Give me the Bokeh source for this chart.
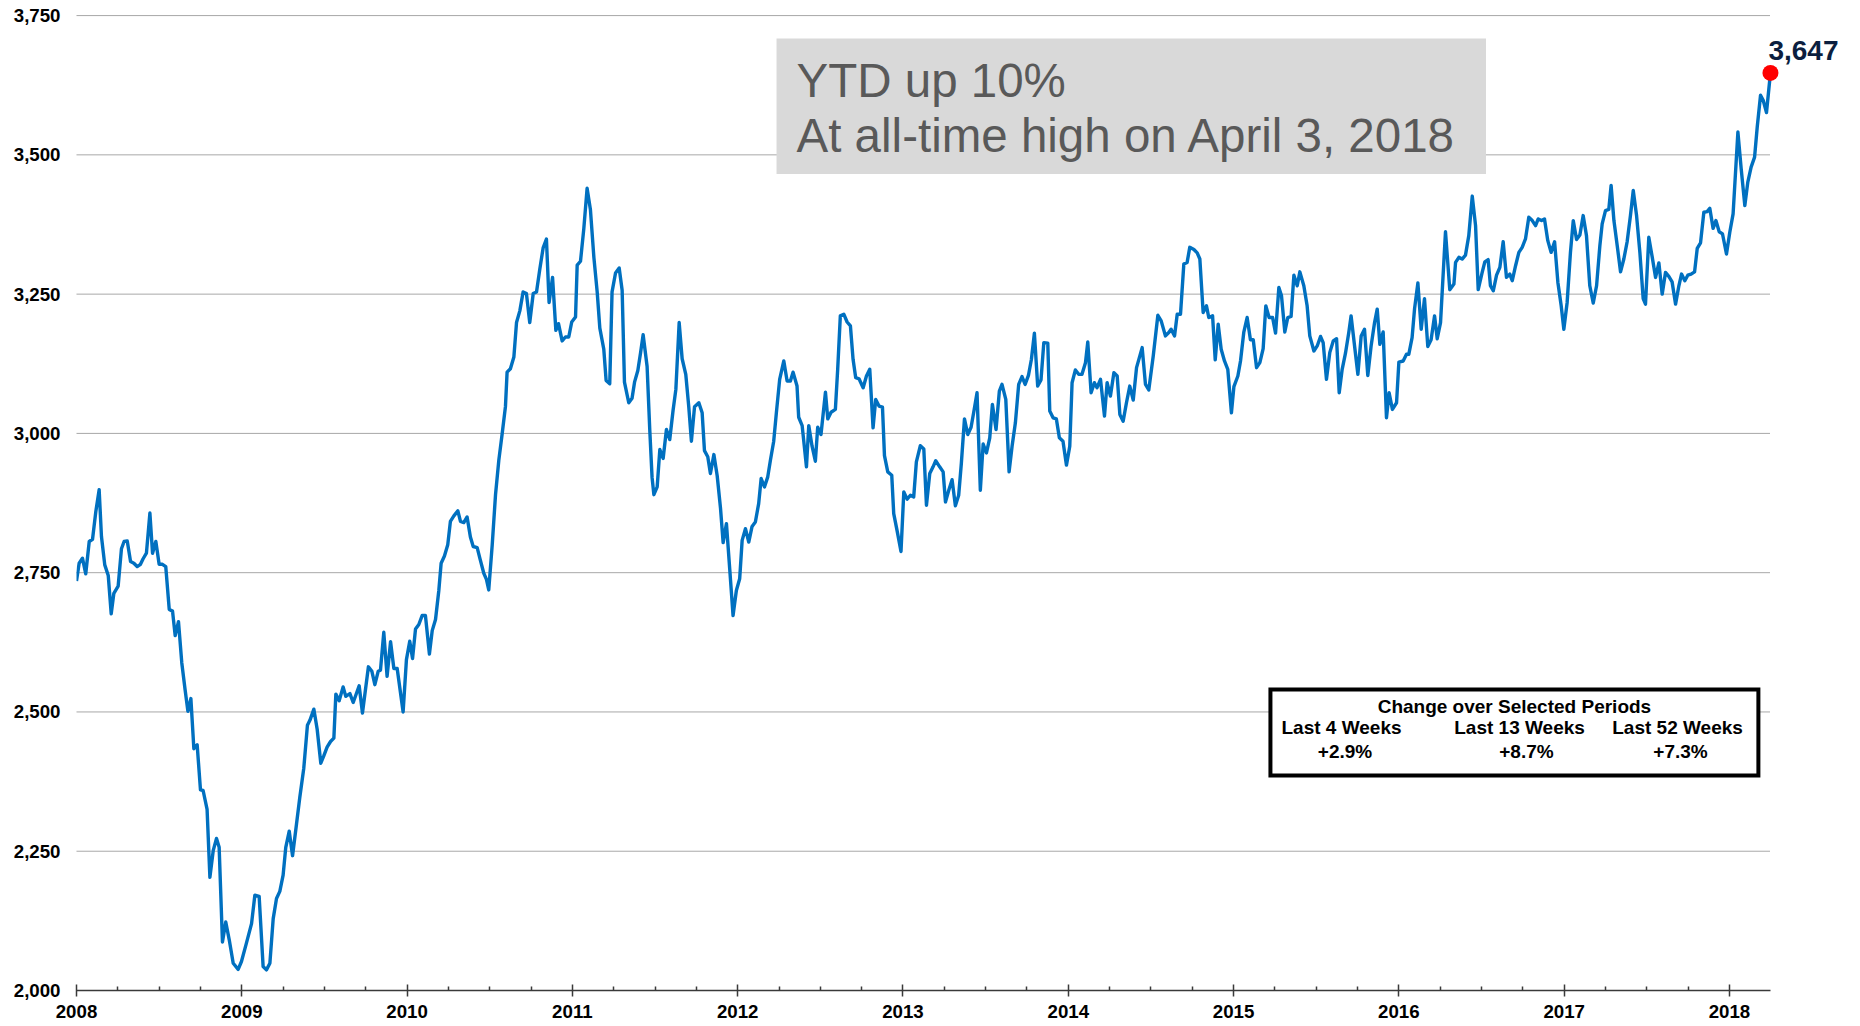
from bokeh.plotting import figure
from bokeh.models import (FixedTicker, NumeralTickFormatter, Label,
                          BoxAnnotation, Range1d)
from bokeh.embed import file_html
from bokeh.resources import INLINE

# ---------------- data (weekly index level) ----------------
years_2008_09 = [2008.000, 2008.016, 2008.036, 2008.056, 2008.077, 2008.097, 2008.117, 2008.137, 2008.151, 2008.171,
                 2008.192, 2008.210, 2008.226, 2008.252, 2008.272, 2008.288, 2008.307, 2008.327, 2008.347, 2008.367,
                 2008.387, 2008.403, 2008.423, 2008.444, 2008.460, 2008.480, 2008.500, 2008.520, 2008.540, 2008.561,
                 2008.581, 2008.597, 2008.617, 2008.637, 2008.657, 2008.674, 2008.692, 2008.710, 2008.730, 2008.750,
                 2008.766, 2008.790, 2008.807, 2008.827, 2008.847, 2008.863, 2008.883, 2008.903, 2008.924, 2008.948,
                 2008.978, 2008.998, 2009.028, 2009.059, 2009.079, 2009.105, 2009.129, 2009.149, 2009.170, 2009.190,
                 2009.210, 2009.230, 2009.250, 2009.266, 2009.287, 2009.307, 2009.331, 2009.351, 2009.375, 2009.397,
                 2009.412, 2009.436, 2009.456, 2009.478, 2009.496, 2009.516, 2009.537, 2009.557, 2009.569, 2009.589,
                 2009.613, 2009.629, 2009.654, 2009.674, 2009.710, 2009.730, 2009.766, 2009.787, 2009.805, 2009.825,
                 2009.839, 2009.859, 2009.879, 2009.900, 2009.920, 2009.940]
values_2008_09 = [2735, 2767, 2776, 2748, 2806, 2810, 2860, 2899, 2815, 2764,
                  2745, 2676, 2713, 2726, 2793, 2806, 2807, 2770, 2767, 2761,
                  2765, 2775, 2785, 2857, 2785, 2806, 2765, 2765, 2761, 2684,
                  2681, 2637, 2662, 2588, 2540, 2501, 2524, 2434, 2441, 2360,
                  2359, 2325, 2203, 2251, 2273, 2257, 2087, 2123, 2091, 2049,
                  2038, 2052, 2085, 2120, 2171, 2169, 2043, 2037, 2049, 2129,
                  2165, 2178, 2207, 2257, 2286, 2242, 2299, 2347, 2399, 2476,
                  2485, 2505, 2469, 2408, 2421, 2437, 2447, 2453, 2532, 2520,
                  2545, 2528, 2533, 2517, 2547, 2498, 2581, 2573, 2549, 2573,
                  2575, 2643, 2564, 2626, 2578, 2578]

years_2010_11 = [2009.976, 2009.996, 2010.016, 2010.033, 2010.051, 2010.071, 2010.091, 2010.111, 2010.135, 2010.152,
                 2010.172, 2010.192, 2010.206, 2010.226, 2010.246, 2010.262, 2010.283, 2010.307, 2010.323, 2010.343,
                 2010.363, 2010.383, 2010.400, 2010.424, 2010.440, 2010.464, 2010.480, 2010.494, 2010.515, 2010.535,
                 2010.555, 2010.575, 2010.595, 2010.605, 2010.625, 2010.646, 2010.662, 2010.682, 2010.702, 2010.722,
                 2010.742, 2010.763, 2010.783, 2010.803, 2010.823, 2010.843, 2010.859, 2010.880, 2010.900, 2010.916,
                 2010.938, 2010.958, 2010.978, 2010.996, 2011.019, 2011.029, 2011.049, 2011.069, 2011.089, 2011.109,
                 2011.130, 2011.150, 2011.166, 2011.190, 2011.204, 2011.226, 2011.240, 2011.261, 2011.283, 2011.301,
                 2011.315, 2011.341, 2011.361, 2011.376, 2011.396, 2011.412, 2011.428, 2011.452, 2011.468, 2011.482,
                 2011.493, 2011.513, 2011.529, 2011.549, 2011.569, 2011.589, 2011.609, 2011.626, 2011.646, 2011.664,
                 2011.686, 2011.704, 2011.720, 2011.739, 2011.765, 2011.785, 2011.799, 2011.819, 2011.835, 2011.856,
                 2011.876, 2011.896, 2011.912, 2011.932, 2011.952, 2011.972]
values_2010_11 = [2500, 2594, 2627, 2596, 2649, 2657, 2673, 2673, 2604, 2646,
                  2666, 2718, 2767, 2780, 2800, 2842, 2852, 2861, 2842, 2840,
                  2850, 2814, 2797, 2795, 2776, 2749, 2738, 2719, 2800, 2890,
                  2952, 2999, 3048, 3110, 3116, 3137, 3199, 3220, 3254, 3251,
                  3199, 3251, 3254, 3295, 3333, 3349, 3235, 3280, 3185, 3197,
                  3166, 3173, 3173, 3200, 3209, 3302, 3309, 3367, 3440, 3402,
                  3316, 3254, 3189, 3151, 3095, 3089, 3254, 3288, 3297, 3257,
                  3092, 3055, 3063, 3092, 3113, 3144, 3177, 3120, 3007, 2921,
                  2890, 2904, 2971, 2955, 3007, 2989, 3041, 3079, 3199, 3134,
                  3106, 3048, 2986, 3048, 3055, 3037, 2969, 2958, 2928, 2962,
                  2924, 2866, 2804, 2838, 2756, 2673]

years_2012_13 = [2011.992, 2012.012, 2012.027, 2012.047, 2012.067, 2012.087, 2012.107, 2012.127, 2012.142, 2012.162,
                 2012.182, 2012.198, 2012.218, 2012.234, 2012.254, 2012.279, 2012.299, 2012.319, 2012.335, 2012.359,
                 2012.369, 2012.390, 2012.416, 2012.430, 2012.450, 2012.470, 2012.484, 2012.504, 2012.531, 2012.545,
                 2012.565, 2012.591, 2012.605, 2012.621, 2012.642, 2012.662, 2012.682, 2012.698, 2012.714, 2012.734,
                 2012.759, 2012.779, 2012.799, 2012.819, 2012.835, 2012.855, 2012.876, 2012.888, 2012.908, 2012.932,
                 2012.944, 2012.964, 2012.988, 2013.005, 2013.025, 2013.045, 2013.065, 2013.081, 2013.105, 2013.126,
                 2013.142, 2013.162, 2013.182, 2013.198, 2013.222, 2013.243, 2013.257, 2013.277, 2013.297, 2013.317,
                 2013.337, 2013.353, 2013.372, 2013.392, 2013.412, 2013.428, 2013.448, 2013.468, 2013.485, 2013.505,
                 2013.525, 2013.541, 2013.563, 2013.583, 2013.599, 2013.622, 2013.642, 2013.660, 2013.680, 2013.700,
                 2013.720, 2013.739, 2013.759, 2013.777, 2013.795, 2013.815, 2013.835, 2013.852, 2013.876, 2013.888,
                 2013.908, 2013.928, 2013.946, 2013.968, 2013.989, 2014.009, 2014.023, 2014.043, 2014.063, 2014.083,
                 2014.104, 2014.118, 2014.138, 2014.158, 2014.174]
values_2012_13 = [2718, 2739, 2808, 2829, 2805, 2833, 2841, 2874, 2919, 2904,
                  2922, 2952, 2986, 3037, 3097, 3130, 3094, 3094, 3110, 3085,
                  3029, 3014, 2940, 3014, 2977, 2950, 3011, 2998, 3074, 3026,
                  3038, 3043, 3115, 3211, 3214, 3200, 3193, 3133, 3100, 3098,
                  3082, 3103, 3115, 3010, 3061, 3049, 3047, 2960, 2931, 2925,
                  2856, 2826, 2788, 2895, 2882, 2889, 2886, 2949, 2978, 2972,
                  2871, 2928, 2940, 2951, 2940, 2931, 2877, 2898, 2917, 2870,
                  2889, 2946, 3026, 2998, 3011, 3038, 3073, 2898, 2981, 2965,
                  2992, 3052, 3007, 3076, 3088, 3061, 2931, 2977, 3019, 3088,
                  3102, 3088, 3104, 3133, 3180, 3085, 3096, 3163, 3162, 3040,
                  3028, 3026, 2992, 2986, 2943, 2977, 3091, 3114, 3106, 3106,
                  3127, 3164, 3073, 3091, 3082]

years_2014_15 = [2014.195, 2014.219, 2014.235, 2014.255, 2014.276, 2014.296, 2014.312, 2014.332, 2014.352, 2014.372,
                 2014.393, 2014.413, 2014.447, 2014.467, 2014.487, 2014.514, 2014.542, 2014.562, 2014.588, 2014.608,
                 2014.622, 2014.643, 2014.659, 2014.679, 2014.699, 2014.719, 2014.735, 2014.760, 2014.780, 2014.796,
                 2014.816, 2014.836, 2014.850, 2014.873, 2014.889, 2014.907, 2014.925, 2014.945, 2014.965, 2014.987,
                 2015.002, 2015.026, 2015.042, 2015.062, 2015.082, 2015.102, 2015.119, 2015.139, 2015.159, 2015.179,
                 2015.195, 2015.215, 2015.236, 2015.254, 2015.274, 2015.290, 2015.310, 2015.328, 2015.348, 2015.365,
                 2015.385, 2015.401, 2015.425, 2015.445, 2015.461, 2015.486, 2015.506, 2015.526, 2015.542, 2015.562,
                 2015.582, 2015.603, 2015.623, 2015.639, 2015.657, 2015.677, 2015.697, 2015.711, 2015.732, 2015.752,
                 2015.772, 2015.792, 2015.812, 2015.832, 2015.853, 2015.869, 2015.885, 2015.905, 2015.925, 2015.941,
                 2015.961, 2015.986, 2016.000, 2016.026, 2016.046, 2016.060, 2016.080, 2016.095, 2016.115, 2016.135,
                 2016.155, 2016.175, 2016.195, 2016.216, 2016.232, 2016.252]
values_2014_15 = [3097, 3031, 3091, 3067, 3109, 3103, 3034, 3022, 3055, 3085,
                  3060, 3118, 3154, 3088, 3078, 3139, 3212, 3202, 3175, 3181,
                  3187, 3175, 3214, 3214, 3304, 3307, 3334, 3330, 3324, 3313,
                  3217, 3229, 3208, 3211, 3132, 3196, 3151, 3130, 3115, 3037,
                  3084, 3103, 3130, 3182, 3208, 3168, 3168, 3118, 3127, 3152,
                  3229, 3208, 3208, 3180, 3262, 3247, 3182, 3208, 3210, 3284,
                  3265, 3290, 3265, 3229, 3175, 3148, 3157, 3174, 3163, 3097,
                  3145, 3166, 3170, 3073, 3115, 3144, 3181, 3211, 3157, 3106,
                  3175, 3187, 3104, 3157, 3199, 3223, 3160, 3182, 3028, 3073,
                  3043, 3055, 3128, 3130, 3142, 3142, 3172, 3224, 3270, 3187,
                  3242, 3156, 3168, 3211, 3170, 3199]

years_2016_18 = [2016.282, 2016.308, 2016.333, 2016.343, 2016.363, 2016.383, 2016.403, 2016.423, 2016.444, 2016.464,
                 2016.480, 2016.504, 2016.520, 2016.540, 2016.554, 2016.571, 2016.591, 2016.611, 2016.631, 2016.651,
                 2016.671, 2016.686, 2016.706, 2016.726, 2016.746, 2016.766, 2016.786, 2016.807, 2016.827, 2016.843,
                 2016.863, 2016.881, 2016.901, 2016.921, 2016.942, 2016.962, 2016.982, 2016.998, 2017.018, 2017.038,
                 2017.055, 2017.075, 2017.095, 2017.115, 2017.135, 2017.155, 2017.176, 2017.196, 2017.216, 2017.230,
                 2017.250, 2017.270, 2017.284, 2017.301, 2017.321, 2017.341, 2017.361, 2017.381, 2017.401, 2017.418,
                 2017.438, 2017.458, 2017.478, 2017.492, 2017.512, 2017.533, 2017.553, 2017.573, 2017.593, 2017.613,
                 2017.633, 2017.653, 2017.674, 2017.694, 2017.710, 2017.730, 2017.748, 2017.768, 2017.789, 2017.805,
                 2017.825, 2017.845, 2017.865, 2017.881, 2017.901, 2017.918, 2017.938, 2017.958, 2017.982, 2018.002,
                 2018.022, 2018.051, 2018.071, 2018.093, 2018.111, 2018.131, 2018.152, 2018.168, 2018.188, 2018.204,
                 2018.224, 2018.248]
values_2016_18 = [3362, 3258, 3268, 3307, 3316, 3313, 3320, 3355, 3426, 3373,
                  3258, 3289, 3308, 3312, 3265, 3256, 3284, 3298, 3344, 3280,
                  3286, 3274, 3301, 3325, 3334, 3349, 3388, 3382, 3373, 3385,
                  3382, 3385, 3346, 3325, 3344, 3271, 3229, 3187, 3235, 3325,
                  3382, 3348, 3356, 3391, 3355, 3265, 3234, 3265, 3337, 3376,
                  3400, 3402, 3445, 3382, 3337, 3290, 3313, 3344, 3391, 3436,
                  3391, 3325, 3242, 3232, 3352, 3316, 3280, 3306, 3250, 3289,
                  3282, 3272, 3232, 3265, 3286, 3274, 3284, 3286, 3290, 3332,
                  3342, 3397, 3398, 3404, 3368, 3382, 3362, 3358, 3322, 3361,
                  3394, 3541, 3475, 3409, 3451, 3478, 3496, 3550, 3607, 3598,
                  3576, 3647]

y_ticks = [2000, 2250, 2500, 2750, 3000, 3250, 3500, 3750]
year_ticks = [2008, 2009, 2010, 2011, 2012, 2013, 2014, 2015, 2016, 2017, 2018]

note_lines = ["YTD up 10%", "At all-time high on April 3, 2018"]
change_title = "Change over Selected Periods"
change_periods = ["Last 4 Weeks", "Last 13 Weeks", "Last 52 Weeks"]
change_values = ["+2.9%", "+8.7%", "+7.3%"]

# ---------------- assemble ----------------
years = years_2008_09 + years_2010_11 + years_2012_13 + years_2014_15 + years_2016_18
values = values_2008_09 + values_2010_11 + values_2012_13 + values_2014_15 + values_2016_18
assert len(years) == len(values)
quarter_ticks = [y + q for y in year_ticks[:-1] for q in (0.25, 0.5, 0.75)]

FONT = "Liberation Sans"
W, H = 1860, 1026
p = figure(width=W, height=H, output_backend="svg", toolbar_location=None,
           x_range=Range1d(2008.0, 2018.702), y_range=Range1d(2000, 3766.3),
           min_border_left=76, min_border_right=15, min_border_top=6, min_border_bottom=36)
p.outline_line_color = None
p.background_fill_color = "white"
p.border_fill_color = "white"
p.xgrid.visible = False
p.ygrid.visible = False

# y axis: labels only
p.yaxis.ticker = FixedTicker(ticks=y_ticks)
p.yaxis.formatter = NumeralTickFormatter(format="0,0")
p.yaxis.axis_line_color = None
p.yaxis.major_tick_line_color = None
p.yaxis.minor_tick_line_color = None
p.yaxis.major_tick_in = 0
p.yaxis.major_tick_out = 0
p.yaxis.major_label_standoff = 16
p.yaxis.major_label_text_font = FONT
p.yaxis.major_label_text_font_style = "bold"
p.yaxis.major_label_text_font_size = "18.7px"
p.yaxis.major_label_text_color = "black"

# x axis
p.xaxis.ticker = FixedTicker(ticks=year_ticks, minor_ticks=quarter_ticks)
p.xaxis.bounds = (years[0], years[-1])
p.xaxis.axis_line_color = "#3a3a3a"
p.xaxis.axis_line_width = 1.5
p.xaxis.major_tick_line_color = "#3a3a3a"
p.xaxis.major_tick_line_width = 1.5
p.xaxis.major_tick_in = 6
p.xaxis.major_tick_out = 6
p.xaxis.minor_tick_line_color = "#3a3a3a"
p.xaxis.minor_tick_line_width = 1.5
p.xaxis.minor_tick_in = 4
p.xaxis.minor_tick_out = 0
p.xaxis.major_label_standoff = 8
p.xaxis.major_label_text_font = FONT
p.xaxis.major_label_text_font_style = "bold"
p.xaxis.major_label_text_font_size = "18.7px"
p.xaxis.major_label_text_color = "black"

# dotted horizontal gridlines spanning the data
grid_vals = y_ticks[1:]
p.segment(x0=[years[0]] * len(grid_vals), x1=[years[-1]] * len(grid_vals),
          y0=grid_vals, y1=grid_vals, line_color="#505050", line_width=1, line_dash="1 1")

# series
p.line(years, values, line_color="#0070C0", line_width=3.4, line_join="round")
p.scatter([years[-1]], [values[-1]], size=16, fill_color="#FF0000", line_color=None)

# last value label
p.add_layout(Label(x=years[-1], y=values[-1], text=f"{values[-1]:,}", x_offset=33, y_offset=22,
                   text_align="center", text_baseline="alphabetic", text_font=FONT,
                   text_font_style="bold", text_font_size="28px", text_color="#0c1f3f"))

# grey note box
p.add_layout(BoxAnnotation(left=2012.235, right=2016.527, top=3708.8, bottom=3465.6,
                           fill_color="#D9D9D9", fill_alpha=1.0, line_color=None))
for txt, yv, dy in zip(note_lines, [3606.5, 3504.8], [15, 17]):
    p.add_layout(Label(x=2012.356, y=yv, text=txt, text_align="left", text_baseline="alphabetic",
                       y_offset=dy, text_font=FONT, text_font_size="47.5px", text_color="#595959"))

# change-over-periods box
p.add_layout(BoxAnnotation(left=2015.223, right=2018.175, top=2540.3, bottom=2385.9,
                           fill_color="white", fill_alpha=1.0, line_color="black", line_alpha=1.0,
                           line_width=4, line_join="miter"))
p.add_layout(Label(x=2016.699, y=2497.2, text=change_title, text_align="center", y_offset=7.5,
                   text_baseline="alphabetic", text_font=FONT, text_font_style="bold",
                   text_font_size="19px", text_color="black"))
for txt, xv in zip(change_periods, [2015.653, 2016.730, 2017.686]):
    p.add_layout(Label(x=xv, y=2459.5, text=txt, text_align="center", text_baseline="alphabetic",
                       y_offset=7.5, text_font=FONT, text_font_style="bold", text_font_size="19px",
                       text_color="black"))
for txt, xv in zip(change_values, [2015.674, 2016.772, 2017.704]):
    p.add_layout(Label(x=xv, y=2419.1, text=txt, text_align="center", text_baseline="alphabetic",
                       y_offset=6, text_font=FONT, text_font_style="bold", text_font_size="19px",
                       text_color="black"))

open("out.html", "w").write(file_html(p, INLINE))
